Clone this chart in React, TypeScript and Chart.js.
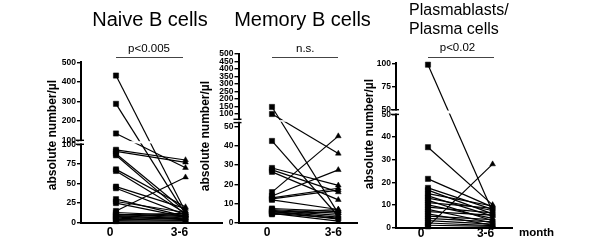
import React, { useEffect, useRef } from 'react';
import { Chart, registerables, LinearScale } from 'chart.js';

Chart.register(...registerables);

// ---------------- data ----------------
const categories = ['0', '3-6'];

const naiveBefore = [432, 287, 135, 93, 91, 88, 86, 68, 66, 46, 44, 30, 27, 25, 15, 13, 11, 10, 9, 8, 7, 5, 4, 3, 2];
const naiveAfter = [14, 11, 70, 80, 77, 15, 10, 20, 12, 18, 10, 8, 13, 7, 58, 9, 6, 12, 5, 10, 4, 8, 3, 6, 2];
const naiveLowTicks = [0, 25, 50, 75, 100];
const naiveUpTicks = [100, 200, 300, 400, 500];

const memoryBefore = [147, 100, 42.5, 28.5, 27.5, 26.5, 16, 14, 13, 12.5, 12, 7.5, 7, 6.5, 6, 6, 5.5, 5, 5, 4.5];
const memoryAfter = [5, 36, 3.5, 19.5, 16, 12, 45, 27.5, 18, 17, 7, 6, 5, 4, 3, 2, 7, 2.5, 1, 6];
const memoryLowTicks = [0, 10, 20, 30, 40, 50];
const memoryUpTicks = [100, 150, 200, 250, 300, 350, 400, 450, 500];

const plasmaBefore = [98.5, 35.5, 21.5, 17.5, 16.5, 15, 14, 13, 12, 11, 10, 9, 8, 7, 6, 5, 4, 3, 2, 1, 0.5];
const plasmaAfter = [7, 10, 9, 8, 6, 9.5, 5, 7.5, 3, 8.5, 4, 6.5, 2, 5.5, 1, 3.5, 2.5, 1.5, 0.8, 0.5, 28];
const plasmaLowTicks = [0, 10, 20, 30, 40, 50];
const plasmaUpTicks = [50, 75, 100];

const titles = ['Naive B cells', 'Memory B cells', 'Plasmablasts/', 'Plasma cells'];
const pLabels = ['p<0.005', 'n.s.', 'p<0.02'];
const yTitle = 'absolute number/µl';
const xTitle = 'month';

// ---------------- broken axis scale ----------------
type BreakCfg = {
  lowMax: number;
  upMin: number;
  upMax: number;
  lowFrac: number;
  gapFrac: number;
  lowTicks: number[];
  upTicks: number[];
};

function makeBrokenScale(id: string, cfg: BreakCfg) {
  class BrokenScale extends (LinearScale as any) {
    static id = id;
    static defaults = {};
    buildTicks() {
      return [
        ...cfg.lowTicks.map((v) => ({ value: v, seg: 'low' })),
        ...cfg.upTicks.map((v) => ({ value: v, seg: 'up' })),
      ];
    }
    segPixel(v: number, seg?: string) {
      const self: any = this;
      const Ht = self.bottom - self.top;
      const lowH = Ht * cfg.lowFrac;
      const gapH = Ht * cfg.gapFrac;
      const upH = Ht - lowH - gapH;
      const s = seg || (v <= cfg.lowMax ? 'low' : 'up');
      if (s === 'low') return self.bottom - (v / cfg.lowMax) * lowH;
      return self.bottom - lowH - gapH - ((v - cfg.upMin) / (cfg.upMax - cfg.upMin)) * upH;
    }
    getPixelForValue(v: number) {
      return this.segPixel(v);
    }
    getPixelForTick(i: number) {
      const t = (this as any).ticks[i];
      if (!t) return null;
      return this.segPixel(t.value, t.seg);
    }
    getValueForPixel(p: number) {
      const self: any = this;
      const Ht = self.bottom - self.top;
      const lowH = Ht * cfg.lowFrac;
      const gapH = Ht * cfg.gapFrac;
      const upH = Ht - lowH - gapH;
      const d = self.bottom - p;
      if (d <= lowH) return (d / lowH) * cfg.lowMax;
      return cfg.upMin + ((d - lowH - gapH) / upH) * (cfg.upMax - cfg.upMin);
    }
  }
  return BrokenScale;
}

const naiveBreak: BreakCfg = { lowMax: 100, upMin: 100, upMax: 500, lowFrac: 0.4888, gapFrac: 0.0249, lowTicks: naiveLowTicks, upTicks: naiveUpTicks };
const memoryBreak: BreakCfg = { lowMax: 52, upMin: 65, upMax: 500, lowFrac: 0.594, gapFrac: 0.0198, lowTicks: memoryLowTicks, upTicks: memoryUpTicks };
const plasmaBreak: BreakCfg = { lowMax: 50, upMin: 50, upMax: 100, lowFrac: 0.6888, gapFrac: 0.0286, lowTicks: plasmaLowTicks, upTicks: plasmaUpTicks };

Chart.register(
  makeBrokenScale('brokenNaive', naiveBreak) as any,
  makeBrokenScale('brokenMemory', memoryBreak) as any,
  makeBrokenScale('brokenPlasma', plasmaBreak) as any
);

// ---------------- layout ----------------
const FONT = '"Liberation Sans", Arial, Helvetica, sans-serif';
const W = 600;
const H = 243;

type Panel = {
  scaleId: string;
  before: number[];
  after: number[];
  brk: BreakCfg;
  left: number;
  right: number;
  top: number;
  bottom: number;
  xMin: number;
  xMax: number;
  xPad: number;
  labelOffset: number;
};

const panels: Panel[] = [
  { scaleId: 'brokenNaive', before: naiveBefore, after: naiveAfter, brk: naiveBreak, left: 81, right: 222, top: 62.3, bottom: 222.7, xMin: -0.5036, xMax: 1.525, xPad: 2.6, labelOffset: -6 },
  { scaleId: 'brokenMemory', before: memoryBefore, after: memoryAfter, brk: memoryBreak, left: 238.5, right: 357, top: 54, bottom: 223, xMin: -0.505, xMax: 1.282, xPad: 2.3, labelOffset: -5 },
  { scaleId: 'brokenPlasma', before: plasmaBefore, after: plasmaAfter, brk: plasmaBreak, left: 396, right: 512, top: 63.3, bottom: 227.5, xMin: -0.495, xMax: 1.3, xPad: -1, labelOffset: -7 },
];

function breakPlugin(cfg: BreakCfg) {
  return {
    id: 'axisBreak',
    afterDatasetsDraw(chart: any) {
      const ys = chart.scales.y;
      const { ctx, chartArea } = chart;
      const upBottom = ys.segPixel(cfg.upMin, 'up');
      const lowTop = ys.segPixel(cfg.lowMax, 'low');
      const ax = ys.right;
      ctx.save();
      ctx.fillStyle = '#ffffff';
      ctx.fillRect(ax - 2, upBottom + 0.9, chartArea.right - ax + 2, lowTop - upBottom - 1.8);
      ctx.strokeStyle = '#000000';
      ctx.lineWidth = 1.4;
      [upBottom, lowTop].forEach((py: number) => {
        ctx.beginPath();
        ctx.moveTo(ax - 5, py);
        ctx.lineTo(ax + 3, py);
        ctx.stroke();
      });
      ctx.restore();
    },
  };
}

function buildConfig(p: Panel): any {
  const datasets = p.before.map((b, i) => ({
    data: [
      { x: 0, y: b },
      { x: 1, y: p.after[i] },
    ],
    borderColor: '#000000',
    backgroundColor: '#000000',
    borderWidth: 1.2,
    pointStyle: ['rect', 'triangle'],
    pointRadius: [3.7, 3.3],
    pointBorderWidth: 0.5,
    pointBorderColor: '#000000',
    pointBackgroundColor: '#000000',
    fill: false,
    tension: 0,
    clip: false,
  }));
  return {
    type: 'line',
    data: { datasets },
    options: {
      responsive: false,
      animation: false,
      events: [],
      layout: { padding: { left: 0, top: p.top, right: W - p.right, bottom: 0 } },
      plugins: { legend: { display: false }, tooltip: { enabled: false }, title: { display: false } },
      scales: {
        x: {
          type: 'linear',
          min: p.xMin,
          max: p.xMax,
          afterBuildTicks: (s: any) => {
            s.ticks = categories.map((_, i) => ({ value: i }));
          },
          afterFit: (s: any) => {
            s.height = H - p.bottom;
          },
          grid: { display: false, drawTicks: false },
          border: { display: true, color: '#000000', width: 2 },
          ticks: {
            callback: (v: any) => categories[v] ?? '',
            font: { family: FONT, size: 12, weight: 'bold' },
            color: '#000000',
            padding: p.xPad,
            labelOffset: p.labelOffset,
            autoSkip: false,
            maxRotation: 0,
            minRotation: 0,
          },
        },
        y: {
          type: p.scaleId,
          min: 0,
          max: p.brk.upMax,
          afterFit: (s: any) => {
            s.width = p.left;
          },
          grid: { display: true, drawOnChartArea: false, drawTicks: true, tickLength: 4, color: '#000000', lineWidth: 1.4 },
          border: { display: true, color: '#000000', width: 2 },
          ticks: {
            font: { family: FONT, size: 8.5, weight: 'bold' },
            color: '#000000',
            padding: 1,
            autoSkip: false,
            callback: (v: any) => String(v),
          },
        },
      },
    },
    plugins: [breakPlugin(p.brk)],
  };
}

function PanelChart({ panel }: { panel: Panel }) {
  const ref = useRef<HTMLCanvasElement>(null);
  useEffect(() => {
    const chart = new Chart(ref.current as HTMLCanvasElement, buildConfig(panel));
    return () => chart.destroy();
  }, [panel]);
  return (
    <canvas
      ref={ref}
      width={W}
      height={H}
      style={{ position: 'absolute', left: 0, top: 0, width: W, height: H, display: 'block' }}
    />
  );
}

// text with baseline at y
function Txt(props: { x: number; y: number; size: number; bold?: boolean; align?: 'left' | 'center'; children: any }) {
  const { x, y, size, bold, align = 'center', children } = props;
  const top = y - 0.8465 * size;
  const style: any = {
    position: 'absolute',
    top,
    fontFamily: FONT,
    fontSize: size,
    lineHeight: `${size}px`,
    fontWeight: bold ? 'bold' : 'normal',
    color: '#000',
    whiteSpace: 'nowrap',
  };
  if (align === 'center') {
    style.left = x - 150;
    style.width = 300;
    style.textAlign = 'center';
  } else {
    style.left = x;
  }
  return <div style={style}>{children}</div>;
}

function VTitle({ cx, cy }: { cx: number; cy: number }) {
  return (
    <div
      style={{
        position: 'absolute',
        left: cx - 100,
        top: cy - 6,
        width: 200,
        height: 12,
        lineHeight: '12px',
        fontFamily: FONT,
        fontSize: 12,
        fontWeight: 'bold',
        textAlign: 'center',
        whiteSpace: 'nowrap',
        transform: 'rotate(-90deg)',
        transformOrigin: '50% 50%',
        color: '#000',
      }}
    >
      {yTitle}
    </div>
  );
}

function HLine({ x1, x2, y }: { x1: number; x2: number; y: number }) {
  return <div style={{ position: 'absolute', left: x1, top: y - 0.5, width: x2 - x1, height: 1, background: '#444' }} />;
}

export default function App() {
  return (
    <div style={{ position: 'absolute', left: 0, top: 0, width: W, height: H, background: '#fff', overflow: 'hidden' }}>
      {panels.map((p) => (
        <PanelChart key={p.scaleId} panel={p} />
      ))}
      <Txt x={150} y={26} size={20}>{titles[0]}</Txt>
      <Txt x={302.5} y={26} size={20}>{titles[1]}</Txt>
      <Txt x={409} y={16} size={16} align="left">{titles[2]}</Txt>
      <Txt x={409} y={34.3} size={16} align="left">{titles[3]}</Txt>

      <Txt x={149} y={52.3} size={11.5}>{pLabels[0]}</Txt>
      <HLine x1={116} x2={182.7} y={57.3} />
      <Txt x={305.3} y={53} size={11.5}>{pLabels[1]}</Txt>
      <HLine x1={271.7} x2={337.7} y={57.3} />
      <Txt x={457.5} y={51.7} size={11.5}>{pLabels[2]}</Txt>
      <HLine x1={428.3} x2={494.3} y={57.3} />

      <VTitle cx={52} cy={134.5} />
      <VTitle cx={205} cy={135.5} />
      <VTitle cx={369} cy={133.5} />

      <Txt x={519} y={237} size={11.5} bold align="left">{xTitle}</Txt>
    </div>
  );
}
